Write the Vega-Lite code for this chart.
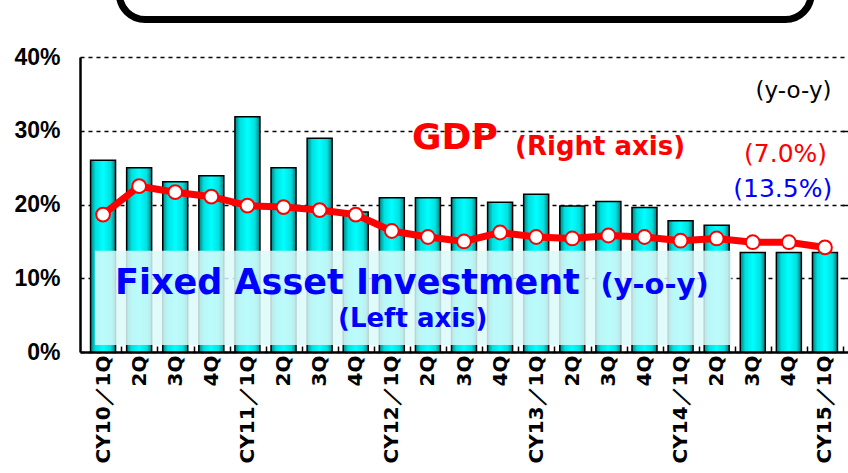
{
  "$schema": "https://vega.github.io/schema/vega-lite/v6.json",
  "autosize": {"type": "none"},
  "width": 768,
  "height": 295,
  "padding": {"left": 80, "top": 57, "right": 0, "bottom": 121},
  "background": "white",
  "config": {"view": {"stroke": null}, "font": "DejaVu Sans"},
  "datasets": {
    "quarters": [
      {"i": 0, "q": "CY10／1Q", "fai": 26.0, "gdp": 9.2},
      {"i": 1, "q": "2Q", "fai": 25.0, "gdp": 11.1},
      {"i": 2, "q": "3Q", "fai": 23.1, "gdp": 10.7},
      {"i": 3, "q": "4Q", "fai": 23.9, "gdp": 10.4},
      {"i": 4, "q": "CY11／1Q", "fai": 31.9, "gdp": 9.8},
      {"i": 5, "q": "2Q", "fai": 25.0, "gdp": 9.7},
      {"i": 6, "q": "3Q", "fai": 29.0, "gdp": 9.5},
      {"i": 7, "q": "4Q", "fai": 19.0, "gdp": 9.2},
      {"i": 8, "q": "CY12／1Q", "fai": 20.9, "gdp": 8.1},
      {"i": 9, "q": "2Q", "fai": 20.9, "gdp": 7.7},
      {"i": 10, "q": "3Q", "fai": 20.9, "gdp": 7.4},
      {"i": 11, "q": "4Q", "fai": 20.3, "gdp": 8.0},
      {"i": 12, "q": "CY13／1Q", "fai": 21.4, "gdp": 7.7},
      {"i": 13, "q": "2Q", "fai": 19.8, "gdp": 7.6},
      {"i": 14, "q": "3Q", "fai": 20.4, "gdp": 7.8},
      {"i": 15, "q": "4Q", "fai": 19.6, "gdp": 7.7},
      {"i": 16, "q": "CY14／1Q", "fai": 17.8, "gdp": 7.45},
      {"i": 17, "q": "2Q", "fai": 17.2, "gdp": 7.6},
      {"i": 18, "q": "3Q", "fai": 13.5, "gdp": 7.35},
      {"i": 19, "q": "4Q", "fai": 13.5, "gdp": 7.35},
      {"i": 20, "q": "CY15／1Q", "fai": 13.5, "gdp": 7.0}
    ]
  },
  "resolve": {"scale": {"y": "independent"}, "axis": {"x": "independent"}},
  "layer": [
    {
      "data": {"name": "quarters"},
      "mark": {
        "type": "bar",
        "width": 25,
        "stroke": "black",
        "strokeWidth": 1.5,
        "fill": {
          "gradient": "linear", "x1": 0, "x2": 1, "y1": 0, "y2": 0,
          "stops": [
            {"offset": 0, "color": "#008080"},
            {"offset": 0.2, "color": "#00e0e0"},
            {"offset": 0.5, "color": "#00ffff"},
            {"offset": 0.8, "color": "#00e0e0"},
            {"offset": 1, "color": "#007a7a"}
          ]
        }
      },
      "encoding": {
        "x": {
          "field": "i", "type": "quantitative",
          "scale": {"domain": [-0.5, 20.5], "nice": false, "zero": false},
          "axis": {
            "orient": "bottom",
            "title": null,
            "values": [0, 4, 8, 12, 16, 20],
            "labelAngle": -90,
            "labelAlign": "right",
            "labelBaseline": "middle",
            "labelFont": "DejaVu Sans",
            "labelFontWeight": "bold",
            "labelFontSize": 20,
            "labelColor": "black",
            "labelPadding": 9,
            "labelFlush": false,
            "labelOverlap": false,
            "labelBound": false,
            "labelExpr": "'CY' + (10 + datum.value / 4) + '／1Q'",
            "tickOffset": 18.286,
            "labelOffset": -18.286,
            "tickSize": -6,
            "tickColor": "black",
            "tickWidth": 1.5,
            "domainColor": "black",
            "domainWidth": 2.5,
            "grid": false
          }
        },
        "y": {
          "field": "fai", "type": "quantitative",
          "scale": {"domain": [0, 40], "nice": false},
          "axis": {
            "title": null,
            "values": [0, 10, 20, 30, 40],
            "labelExpr": "datum.value + '%'",
            "labelFont": "Liberation Sans",
            "labelFontWeight": "bold",
            "labelFontSize": 23,
            "labelColor": "black",
            "labelPadding": 20,
            "ticks": false,
            "domainColor": "black",
            "domainWidth": 2.5,
            "grid": true,
            "gridColor": "black",
            "gridDash": [4, 4],
            "gridWidth": 1.5,
            "gridOpacity": 1
          }
        }
      }
    },
    {
      "data": {"values": [{"u1": -0.227, "u2": 17.41, "v1": 0.95, "v2": 13.74}]},
      "mark": {"type": "rect", "fill": "#dcfafa", "opacity": 0.85},
      "encoding": {
        "x": {"field": "u1", "type": "quantitative", "axis": null},
        "x2": {"field": "u2"},
        "y": {"field": "v1", "type": "quantitative", "scale": {"domain": [0, 40], "nice": false}, "axis": null},
        "y2": {"field": "v2"}
      }
    },
    {
      "data": {"values": [{"u1": 0.45, "u2": 19.62, "v1": 45.08, "v2": 62}]},
      "mark": {"type": "rect", "fill": null, "stroke": "black", "strokeWidth": 7, "cornerRadius": 26, "clip": false},
      "encoding": {
        "x": {"field": "u1", "type": "quantitative", "axis": null},
        "x2": {"field": "u2"},
        "y": {"field": "v1", "type": "quantitative", "scale": {"domain": [0, 40], "nice": false}, "axis": null},
        "y2": {"field": "v2"}
      }
    },
    {
      "data": {"values": [{"label": "Fixed Asset Investment", "u": 6.77, "v": 7.86}]},
      "mark": {"type": "text", "font": "DejaVu Sans", "fontWeight": "bold", "fontSize": 35, "color": "#0000ff", "baseline": "alphabetic", "align": "center"},
      "encoding": {
        "x": {"field": "u", "type": "quantitative", "axis": null},
        "y": {"field": "v", "type": "quantitative", "scale": {"domain": [0, 40], "nice": false}, "axis": null},
        "text": {"field": "label"}
      }
    },
    {
      "data": {"values": [{"label": "(y-o-y)", "u": 15.28, "v": 7.86}]},
      "mark": {"type": "text", "font": "DejaVu Sans", "fontWeight": "bold", "fontSize": 29, "color": "#0000ff", "baseline": "alphabetic", "align": "center"},
      "encoding": {
        "x": {"field": "u", "type": "quantitative", "axis": null},
        "y": {"field": "v", "type": "quantitative", "scale": {"domain": [0, 40], "nice": false}, "axis": null},
        "text": {"field": "label"}
      }
    },
    {
      "data": {"values": [{"label": "(Left axis)", "u": 8.58, "v": 3.39}]},
      "mark": {"type": "text", "font": "DejaVu Sans", "fontWeight": "bold", "fontSize": 26, "color": "#0000ff", "baseline": "alphabetic", "align": "center"},
      "encoding": {
        "x": {"field": "u", "type": "quantitative", "axis": null},
        "y": {"field": "v", "type": "quantitative", "scale": {"domain": [0, 40], "nice": false}, "axis": null},
        "text": {"field": "label"}
      }
    },
    {
      "data": {"values": [{"label": "GDP", "u": 9.75, "v": 27.53}]},
      "mark": {"type": "text", "font": "DejaVu Sans", "fontWeight": "bold", "fontSize": 36, "color": "#ff0000", "baseline": "alphabetic", "align": "center"},
      "encoding": {
        "x": {"field": "u", "type": "quantitative", "axis": null},
        "y": {"field": "v", "type": "quantitative", "scale": {"domain": [0, 40], "nice": false}, "axis": null},
        "text": {"field": "label"}
      }
    },
    {
      "data": {"values": [{"label": "(Right axis)", "u": 13.77, "v": 26.71}]},
      "mark": {"type": "text", "font": "DejaVu Sans", "fontWeight": "bold", "fontSize": 26, "color": "#ff0000", "baseline": "alphabetic", "align": "center"},
      "encoding": {
        "x": {"field": "u", "type": "quantitative", "axis": null},
        "y": {"field": "v", "type": "quantitative", "scale": {"domain": [0, 40], "nice": false}, "axis": null},
        "text": {"field": "label"}
      }
    },
    {
      "data": {"values": [{"label": "(y-o-y)", "u": 19.13, "v": 34.44}]},
      "mark": {"type": "text", "font": "DejaVu Sans", "fontSize": 23, "color": "#000000", "baseline": "alphabetic", "align": "center"},
      "encoding": {
        "x": {"field": "u", "type": "quantitative", "axis": null},
        "y": {"field": "v", "type": "quantitative", "scale": {"domain": [0, 40], "nice": false}, "axis": null},
        "text": {"field": "label"}
      }
    },
    {
      "data": {"values": [{"label": "(7.0%)", "u": 18.91, "v": 25.76}]},
      "mark": {"type": "text", "font": "DejaVu Sans", "fontSize": 25, "color": "#ff0000", "baseline": "alphabetic", "align": "center"},
      "encoding": {
        "x": {"field": "u", "type": "quantitative", "axis": null},
        "y": {"field": "v", "type": "quantitative", "scale": {"domain": [0, 40], "nice": false}, "axis": null},
        "text": {"field": "label"}
      }
    },
    {
      "data": {"values": [{"label": "(13.5%)", "u": 18.83, "v": 21.02}]},
      "mark": {"type": "text", "font": "DejaVu Sans", "fontSize": 25, "color": "#0000ff", "baseline": "alphabetic", "align": "center"},
      "encoding": {
        "x": {"field": "u", "type": "quantitative", "axis": null},
        "y": {"field": "v", "type": "quantitative", "scale": {"domain": [0, 40], "nice": false}, "axis": null},
        "text": {"field": "label"}
      }
    },
    {
      "data": {"name": "quarters"},
      "mark": {"type": "line", "color": "#ff0000", "strokeWidth": 7},
      "encoding": {
        "x": {
          "field": "i", "type": "quantitative",
          "axis": {
            "orient": "bottom",
            "title": null,
            "values": [1, 2, 3, 5, 6, 7, 9, 10, 11, 13, 14, 15, 17, 18, 19],
            "labelAngle": -90,
            "labelAlign": "right",
            "labelBaseline": "middle",
            "labelFont": "DejaVu Sans",
            "labelFontWeight": "bold",
            "labelFontSize": 20,
            "labelColor": "black",
            "labelPadding": 9,
            "labelFlush": false,
            "labelOverlap": false,
            "labelBound": false,
            "labelExpr": "(datum.value % 4 + 1) + 'Q'",
            "tickOffset": 18.286,
            "labelOffset": -18.286,
            "tickSize": -6,
            "tickColor": "black",
            "tickWidth": 1.5,
            "domain": false,
            "grid": false
          }
        },
        "y": {
          "field": "gdp", "type": "quantitative",
          "scale": {"domain": [0, 19.75], "nice": false},
          "axis": {
            "orient": "right", "title": null, "labels": false, "domain": false,
            "values": [4.9375, 9.875, 14.8125],
            "offset": -6,
            "tickSize": 6, "tickColor": "black", "tickWidth": 1.5, "grid": false
          }
        }
      }
    },
    {
      "data": {"name": "quarters"},
      "mark": {"type": "point", "shape": "circle", "filled": true, "fill": "white", "stroke": "#ff0000", "strokeWidth": 2, "size": 190, "opacity": 1},
      "encoding": {
        "x": {"field": "i", "type": "quantitative", "axis": null},
        "y": {"field": "gdp", "type": "quantitative", "scale": {"domain": [0, 19.75], "nice": false}, "axis": null}
      }
    }
  ]
}
